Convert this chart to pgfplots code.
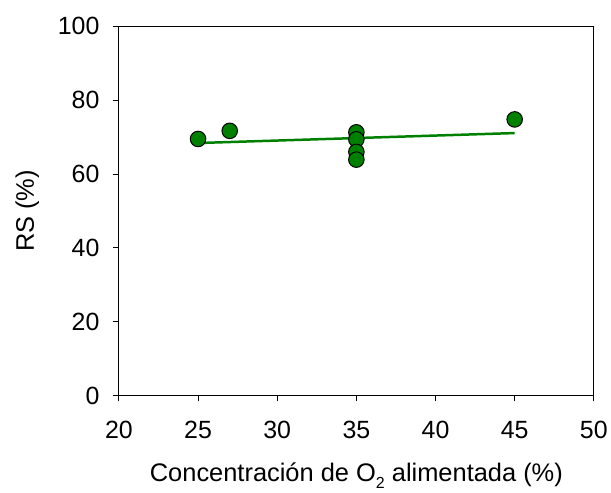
\documentclass[border=0pt]{standalone}
\usepackage{pgfplots}
\pgfplotsset{compat=1.18}
\usepackage{fontspec}
\setmainfont{Liberation Sans}
\definecolor{dgreen}{RGB}{0,128,0}
\begin{document}
\begin{tikzpicture}
\begin{axis}[
  name=ax,
  scale only axis,
  width=476.4pt, height=370.2pt,
  xmin=20, xmax=50, ymin=0, ymax=100,
  xtick={20,25,...,50}, ytick={0,20,...,100},
  tick align=outside,
  xtick pos=bottom, ytick pos=left,
  major tick length=6pt,
  tick style={black, line width=1pt},
  axis line style={line width=1pt},
  /pgf/number format/assume math mode=true,
  tick label style={font=\fontsize{25}{30}\selectfont},
  label style={font=\fontsize{25.5}{30}\selectfont},
  xlabel={Concentración de O\raisebox{-0.3em}{\fontsize{16}{18}\selectfont 2} alimentada (\%)},
  ylabel={RS (\%)},
  xticklabel style={yshift=-16pt},
  yticklabel style={xshift=-10pt},
  xlabel style={at={(axis description cs:0.5,0)}, anchor=base, yshift=-86pt},
  ylabel style={yshift=12pt},
  clip=false,
]
\addplot[dgreen, line width=2.5pt] coordinates {(25,68.4) (45,71.1)};
\addplot[only marks, mark=*, mark size=7.8pt, mark options={fill=dgreen, draw=black, line width=1pt}] coordinates {
(25,69.5) (27,71.7) (35,71.3) (35,69.4) (35,66) (35,63.9) (45,74.8)};
\end{axis}
\path ([xshift=-119.3pt,yshift=-93.3pt]ax.south west) rectangle ++(611pt,490pt);
\end{tikzpicture}
\end{document}
